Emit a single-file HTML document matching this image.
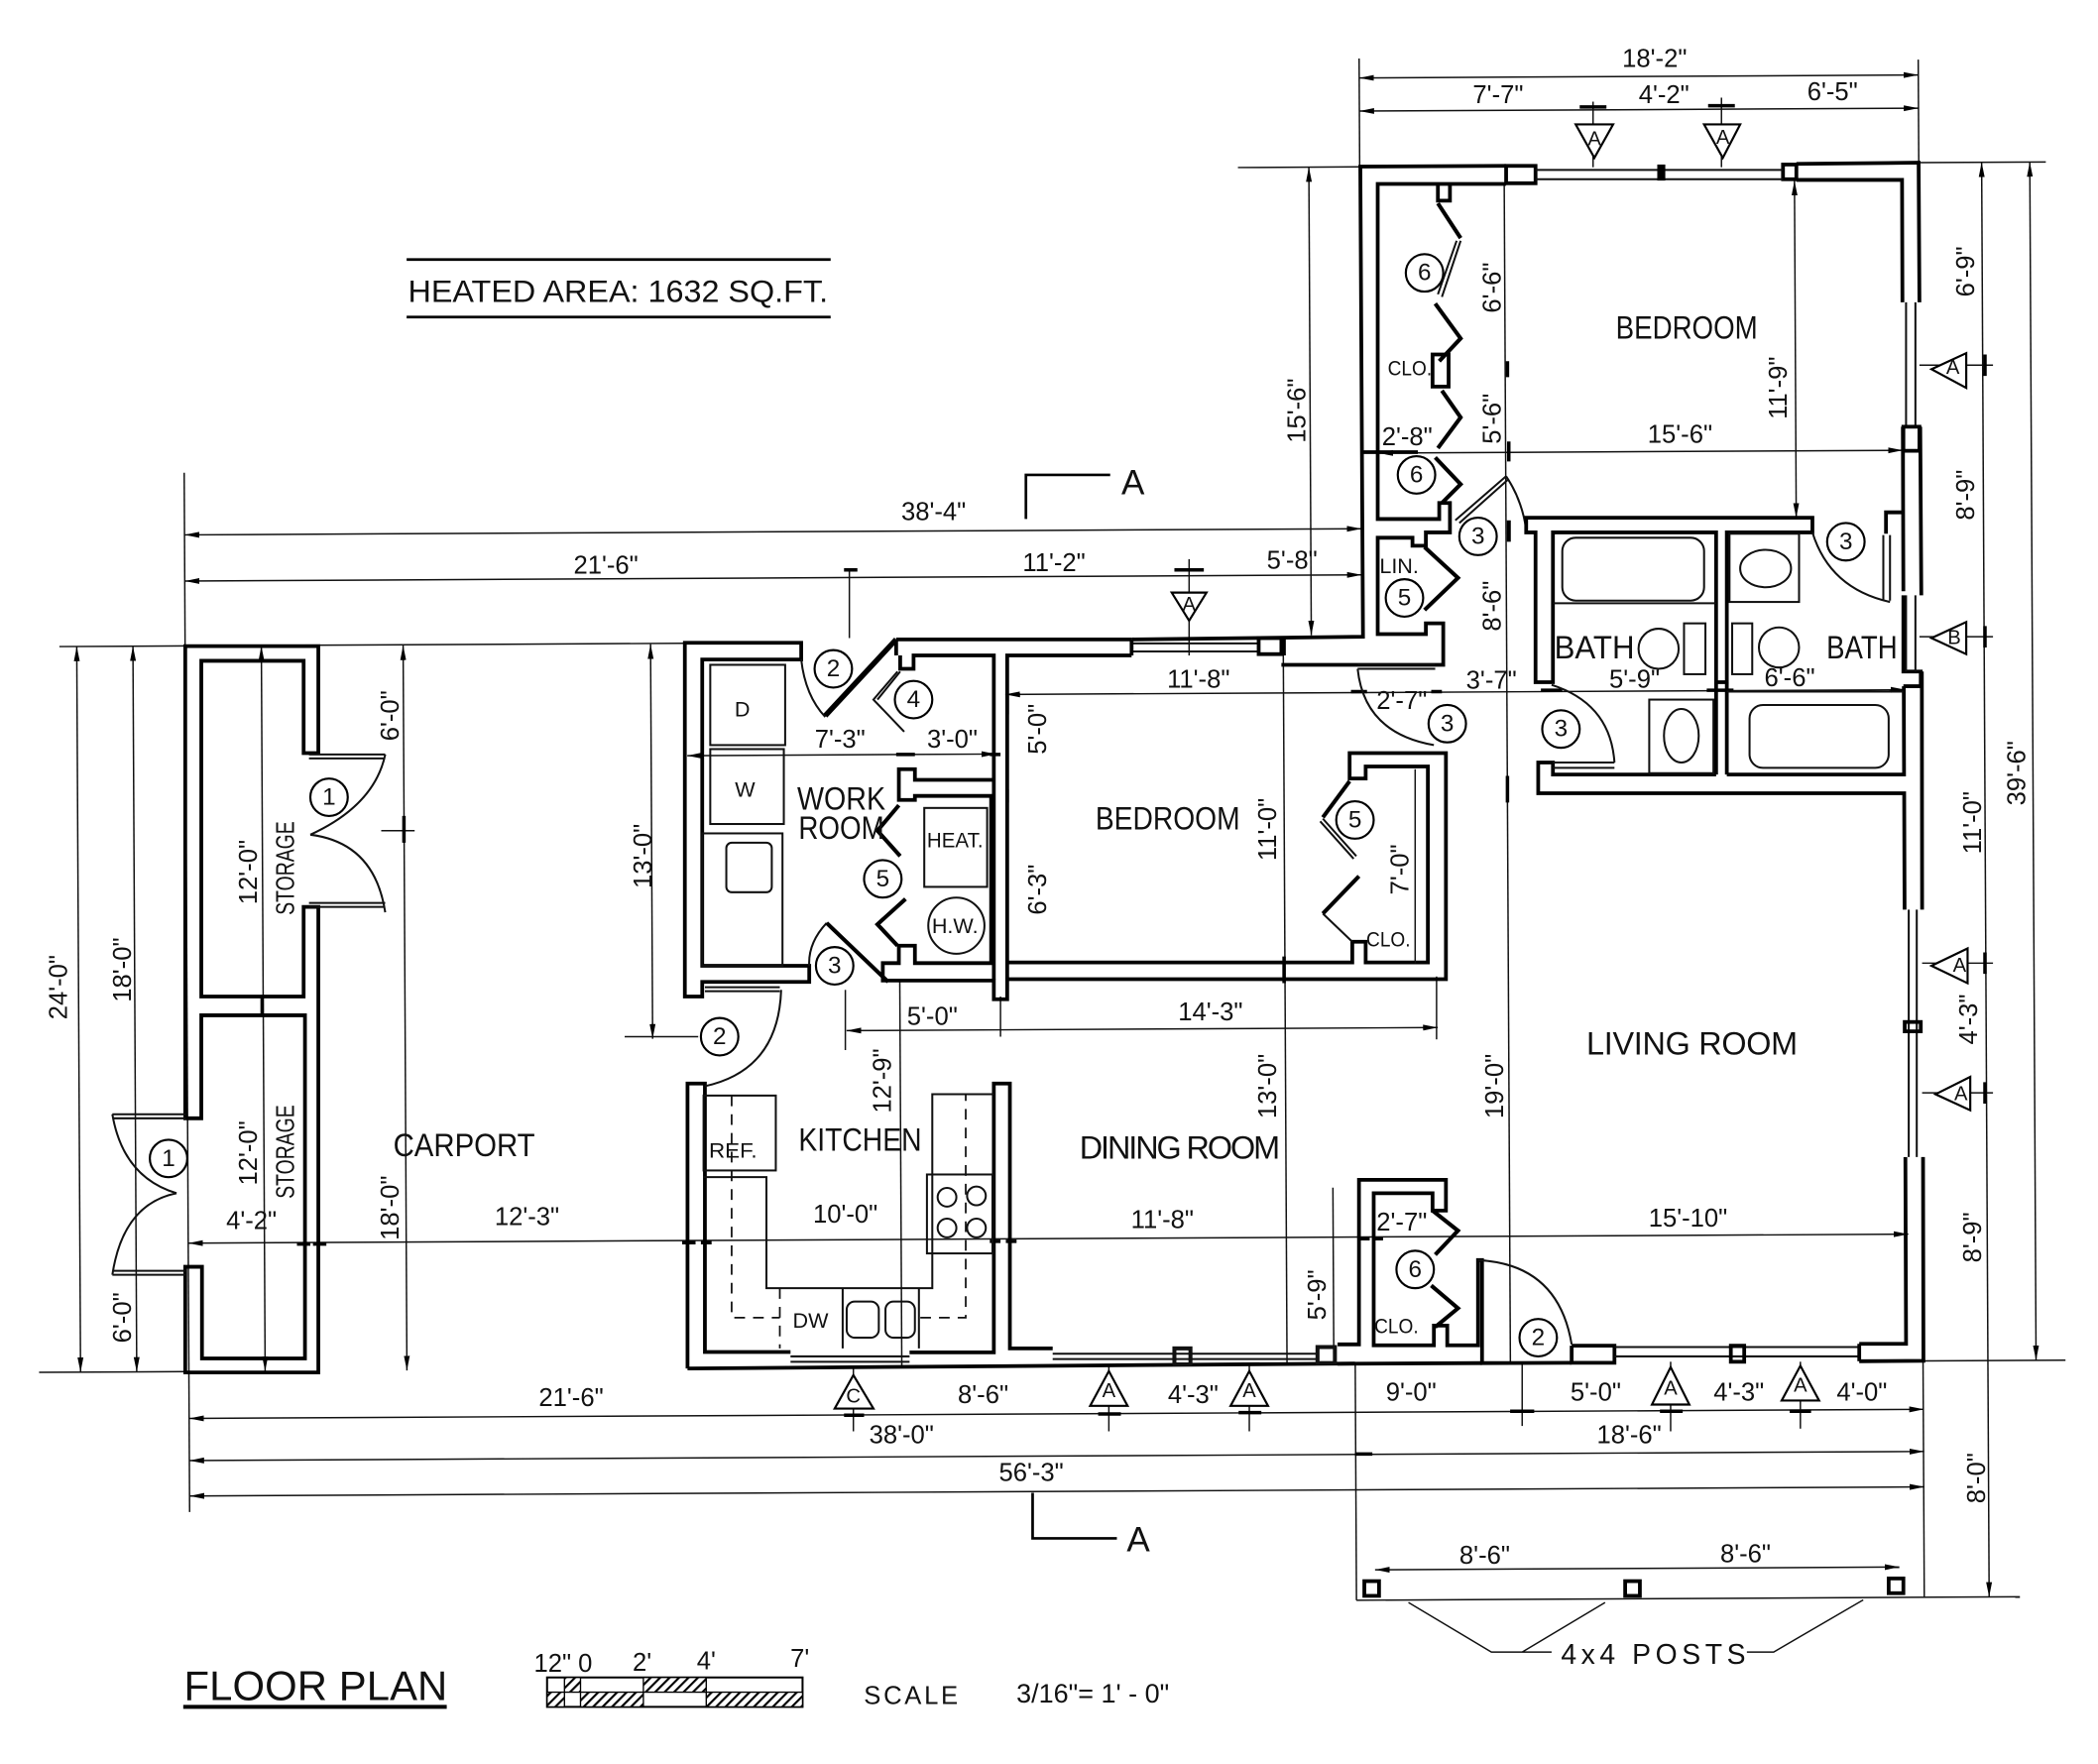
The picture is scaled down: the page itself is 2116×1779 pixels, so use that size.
<!DOCTYPE html>
<html><head><meta charset="utf-8"><title>Floor Plan</title>
<style>
html,body{margin:0;padding:0;background:#fff}
svg{display:block}
text{font-family:"Liberation Sans",sans-serif;fill:#111;text-anchor:middle;dominant-baseline:central}
.w{fill:none;stroke:#000;stroke-width:2.8;stroke-linejoin:miter}
.m{fill:none;stroke:#000;stroke-width:2}
.t{fill:none;stroke:#111;stroke-width:1.1}
.f{fill:none;stroke:#111;stroke-width:1.5}
.da{fill:none;stroke:#111;stroke-width:1.3;stroke-dasharray:8 6}
.a{fill:none;stroke:#111;stroke-width:1.1;marker-start:url(#ar);marker-end:url(#ar)}
.fold{fill:none;stroke:#000;stroke-width:3}
.k{fill:none;stroke:#000;stroke-width:2.6}
.b{fill:#000}
.c{fill:#fff;stroke:#000;stroke-width:1.6}
.d{font-size:19px}
.r{font-size:24px}
.s{font-size:16px}
</style></head><body>
<svg width="2116" height="1779" viewBox="0 0 1568.5 1318.7" xmlns="http://www.w3.org/2000/svg">
<defs>
<marker id="ar" viewBox="0 0 11 5" refX="11" refY="2.5" markerUnits="userSpaceOnUse" markerWidth="11" markerHeight="5" orient="auto-start-reverse"><path d="M11 2.5L0 0.3V4.7Z" fill="#000"/></marker>
<pattern id="h" width="5" height="5" patternUnits="userSpaceOnUse" patternTransform="rotate(45)"><rect width="5" height="5" fill="#fff"/><rect width="1.6" height="5" fill="#000"/></pattern>
</defs>
<rect width="1569" height="1319" fill="#fff"/>

<!-- title -->
<line x1="304" y1="194" x2="621" y2="194" class="m"/>
<line x1="304" y1="237" x2="621" y2="237" class="m"/>
<text x="462" y="218" font-size="23" textLength="314" lengthAdjust="spacingAndGlyphs">HEATED AREA: 1632 SQ.FT.</text>

<!-- long dimension + extension lines, carrying the sheet's slight tilt -->
<g transform="rotate(-0.3 780 600)">
<g class="t">
<line x1="139" y1="350" x2="139" y2="1127"/>
<line x1="45" y1="479.5" x2="512" y2="479.5"/>
<line x1="27" y1="1022" x2="139" y2="1022"/>
<line x1="1019" y1="45" x2="1019" y2="127"/>
<line x1="1437" y1="48" x2="1437" y2="127"/>
<line x1="928" y1="126" x2="1019" y2="126"/>
<line x1="1436" y1="125" x2="1532" y2="125"/>
<line x1="1436" y1="1020.8" x2="1542" y2="1020.8"/>
<line x1="1011" y1="1020" x2="1011" y2="1197.5"/>
<line x1="1435.5" y1="1020" x2="1435.5" y2="1197.5"/>
<line x1="1011" y1="1197.5" x2="1507" y2="1197.5"/>
<line x1="672" y1="733" x2="672" y2="1022"/>
<line x1="960" y1="490" x2="960" y2="1021"/>
<line x1="995" y1="889" x2="995" y2="1020"/>
<line x1="1127" y1="139" x2="1127" y2="1020"/>
</g>
<line class="a" x1="139" y1="396.5" x2="1019" y2="396.5"/>
<line class="a" x1="139" y1="431" x2="1019" y2="431"/>
<line class="a" x1="1019" y1="59.5" x2="1437" y2="59.5"/>
<line class="a" x1="1019" y1="84.3" x2="1437" y2="84.3"/>
<line class="a" x1="58" y1="479.5" x2="58" y2="1022"/>
<line class="a" x1="100" y1="479.5" x2="100" y2="1022"/>
<line class="a" x1="196" y1="480" x2="196" y2="1022"/>
<line class="a" x1="302" y1="480" x2="302" y2="1022"/>
<line class="a" x1="487" y1="480" x2="487" y2="775"/>
<line class="a" x1="139" y1="926" x2="1425" y2="926"/>
<line class="a" x1="514" y1="563.5" x2="745" y2="563.5"/>
<line class="a" x1="752" y1="519" x2="1425" y2="519"/>
<line class="a" x1="632" y1="769.7" x2="1074" y2="769.7"/>
<line class="a" x1="981" y1="126" x2="981" y2="476"/>
<line class="a" x1="1344" y1="138" x2="1344" y2="390"/>
<line class="a" x1="1032" y1="340" x2="1424" y2="340"/>
<line class="a" x1="1484" y1="125" x2="1484" y2="1197.5"/>
<line class="a" x1="1520" y1="125" x2="1520" y2="1020.8"/>
<line class="a" x1="139" y1="1057" x2="1436" y2="1057"/>
<line class="a" x1="139" y1="1088.5" x2="1436" y2="1088.5"/>
<line class="a" x1="139" y1="1115" x2="1436" y2="1115"/>
<line class="a" x1="1025" y1="1174.8" x2="1417" y2="1174.8"/>
</g>
<g class="t">
<line x1="635" y1="425" x2="635" y2="477"/>
<line x1="889" y1="418" x2="889" y2="490"/>
<line x1="1191" y1="76" x2="1191" y2="125"/>
<line x1="1287" y1="73" x2="1287" y2="125"/>
<line x1="467" y1="775" x2="522" y2="775"/>
<line x1="632" y1="740" x2="632" y2="785"/>
<line x1="748" y1="745" x2="748" y2="775"/>
<line x1="1074" y1="730" x2="1074" y2="777"/>
<line x1="1138" y1="1019" x2="1138" y2="1066"/>
<line x1="1435" y1="273" x2="1490" y2="273"/>
<line x1="1435" y1="476" x2="1490" y2="476"/>
<line x1="1437" y1="720" x2="1490" y2="720"/>
<line x1="1437" y1="817" x2="1490" y2="817"/>
<line x1="285" y1="621" x2="310" y2="621"/>
<line x1="638" y1="1022" x2="638" y2="1070"/>
<line x1="829" y1="1020" x2="829" y2="1070"/>
<line x1="934" y1="1020" x2="934" y2="1070"/>
<line x1="1249" y1="1018" x2="1249" y2="1070"/>
<line x1="1346" y1="1018" x2="1346" y2="1068"/>
</g>
<!-- dimension tick blobs -->
<g class="k">
<path d="M1181 80H1201M1277 79H1297M878 426H900"/>
<path d="M1484 265V281M1484 468V484M1484 712V728M1484 809V825"/>
<path d="M631 1058H646M821 1057H838M926 1056H943M1241 1055H1258M1338 1055H1354M1130 1055H1146"/>
<path d="M222 930H232M234 930H244M510 929H520M524 929H532M740 928H748M752 928H760M1016 926H1024M1028 926H1034"/>
<path d="M1010 517H1022M1070 517H1078M1152 516H1168M1276 516H1296M670 564H684M740 564H748"/>
<path d="M631 426H641M1129 1055H1147M1013 1087H1026"/>
<path d="M196 745V760M302 610V630M753 520V534M753 590V600M960 476V490M960 715V735M1127 270V282M1128 330V345M1127 580V600"/>
</g>

<!-- section marks -->
<path class="m" d="M767 388V355H830"/>
<text x="847" y="361" font-size="26">A</text>
<path class="m" d="M772 1116V1150H835"/>
<text x="851" y="1151" font-size="26">A</text>

<!-- storage -->
<path class="w" d="M138.5 836V483H238V563H227V494H150.5V745H227V678H238V1026H138.5V947H151V1015.5H228V759H150.5V836Z"/>
<g class="f">
<path d="M231 564H288M231 567H288M232 624Q280 602 288 564"/>
<path d="M231 675H288M231 678H288M232 624Q280 630 288 682"/>
<path d="M84 833H139M84 836H139M132 892Q92 880 84 833"/>
<path d="M84 950H139M84 953H139M132 892Q92 900 84 953"/>
</g>

<!-- kitchen walls -->
<path class="w" d="M514 1023V810H527V1010.7H591M680 1011H743V810H755V1008H787"/>
<path class="w" d="M514 1023L790 1021L1013 1019.3"/>
<g class="f">
<path d="M591 1014H680M591 1018H680M787 1012H985M787 1016H985"/>
<rect x="878" y="1008" width="12" height="12" stroke-width="3"/>
<rect x="985" y="1007" width="13" height="12" stroke-width="3"/>
<rect x="526" y="819" width="54" height="56"/>
<path d="M526 880H573V963H697V818H743"/>
<rect x="693" y="878" width="49" height="59"/>
<circle cx="708" cy="895" r="7"/><circle cx="730" cy="894" r="7"/><circle cx="708" cy="918" r="7"/><circle cx="730" cy="918" r="7"/>
<path d="M630 963V1008M687 963V1008"/>
<rect x="633" y="973" width="24" height="27" rx="6"/>
<rect x="662" y="973" width="22" height="27" rx="6"/>
</g>
<path class="da" d="M547 819V985H583M583 963V1008M688 985H722V818"/>

<!-- work room -->
<path class="w" d="M512 745V480.5H599V493H525V722H605V734H525V745Z"/>
<path class="f" d="M527 738H583M527 741H583M584 740Q582 800 527 812"/>
<path class="f" d="M599 493Q602 520 617 536M618 690Q604 705 605 722"/>
<line x1="617" y1="535" x2="670" y2="478" class="fold" style="stroke-width:4"/>
<line x1="618" y1="690" x2="664" y2="734" class="fold"/>
<g class="f">
<rect x="531" y="497" width="56" height="60"/>
<rect x="531" y="560" width="55" height="56"/>
<rect x="525" y="623" width="60" height="99"/>
<rect x="543" y="630" width="34" height="37" rx="4"/>
<rect x="691" y="604" width="47" height="59"/>
<circle cx="715" cy="692" r="21"/>
</g>
<path class="w" d="M670 478H846M670 478V490M673 490V500H683V490H743V732M753 732V490H846M743 583H684V575H672V598H684V595H743"/>
<path class="w" d="M741 595V720H684V707H672V720H660V733H743V747H753V732H1081V563H1009V582H1021V573H1067.5V719.5H1021V704H1011V719.5H753"/>
<line x1="1058" y1="575" x2="1058" y2="720" class="t"/>
<path class="fold" d="M672 602L656 621L673 640M677 672L656 691L671 707"/>
<path class="f" d="M671 502L653 523L676 547M673 502L656 523"/>
<path class="fold" d="M1009 584L989 611"/><path class="f" d="M989 612L1014 640M987 614L1012 642"/>
<path class="fold" d="M1016 655L989 683"/><path class="f" d="M989 683L1011 704"/>

<!-- main long wall and bedroom wing -->
<path class="w" d="M846 478L1019 476L1017 124.5L1126 124M1343 122.5L1434.4 121.6L1435 226M1435.6 319L1436.4 445M1436.8 502L1437 680M1437.7 865L1438 1017.3L1390 1017.6M1175 1018.8L1108 1019V942H1105V1005.7H1082V991H1072V1005.7H1027V892H1071V905H1081V882H1016V1005H1000"/>
<line x1="1000" y1="1019.5" x2="1108" y2="1019" class="w"/>
<path class="w" d="M1126 137.5H1030V388H1076V376H1084V398H1066V408H1056V402H1030V474H1066V466H1079V497H958"/>
<line x1="1018" y1="338" x2="1060" y2="338" class="w"/>
<path class="w" d="M1343 134.5H1422L1422.3 226M1422.7 337L1422.8 383H1410V399M1423 442L1422.6 319M1423.3 513L1423.5 579H1291M1283 579H1161V570H1150V593H1423.6L1423.9 680M1424.5 865L1425 1004.6H1390M1175 1006V1018.8H1207V1006H1175"/>
<path class="w" d="M1423 445V502H1436V513H1423"/>
<rect x="1126" y="124" width="22" height="13" class="w"/>
<rect x="1333" y="123" width="10" height="11" class="w"/>
<g class="f">
<path d="M1148 127H1333M1148 134H1333M1425 226V319M1432 226V319M1425 445V502M1432 445V502M1427 680V865M1433 680V865M1207 1007H1390M1207 1014H1390"/>
<path d="M846 481H941M846 487H941"/>
</g>
<rect x="941" y="477" width="17" height="12" class="w"/>
<rect x="1239" y="123" width="6" height="12" class="b"/>
<rect x="1423" y="319" width="12" height="18" class="w"/>
<rect x="1424" y="764" width="12" height="7" class="w"/>
<rect x="1294" y="1006" width="10" height="12" class="w"/>
<path class="w" d="M1390 1004.6V1017.6"/>
<path class="w" d="M846 490V478M958 490V477"/>

<!-- closet folds upper -->
<path class="w" d="M1075 137.5V150H1084V137.5"/>
<path class="fold" d="M1075 152L1092 178"/>
<path class="f" d="M1092 180L1078 222M1089 180L1075 220"/>
<path class="fold" d="M1073 227L1092 253L1076 270"/>
<rect x="1071" y="265" width="12" height="24" class="w"/>
<path class="fold" d="M1078 292L1092 312L1075 335"/>
<path class="fold" d="M1073 342L1092 362L1078 376"/>
<path class="fold" d="M1065 409L1090 432L1065 456"/>
<path class="f" d="M1088 389L1126 356M1091 391L1128 358"/>
<path class="f" d="M1126 356Q1138 374 1141 396"/>
<line x1="1128" y1="389" x2="1128" y2="405" class="fold"/>

<!-- baths -->
<path class="w" d="M1141 387H1355V398H1291V510H1283V398H1161V510H1148V398H1141Z"/>
<line x1="1283" y1="510" x2="1283" y2="579" class="w"/><line x1="1291" y1="510" x2="1291" y2="579" class="w"/>
<g class="f">
<rect x="1168" y="402" width="106" height="47" rx="10"/>
<path d="M1161 451H1283"/>
<rect x="1308" y="527" width="104" height="47" rx="10"/>
<path d="M1291 517H1423"/>
<rect x="1293" y="399" width="52" height="51"/>
<ellipse cx="1320" cy="425" rx="19" ry="14"/>
<rect x="1233" y="523" width="48" height="55"/>
<ellipse cx="1257" cy="550" rx="13" ry="20"/>
<circle cx="1240" cy="485" r="15"/>
<rect x="1259" y="466" width="16" height="38"/>
<rect x="1295" y="466" width="15" height="38"/>
<circle cx="1330" cy="484" r="15"/>
<path d="M1161 570H1207M1161 574H1207M1207 570Q1204 526 1160 512"/>
<path d="M1015 497H1073M1015 500H1073M1015 500Q1020 548 1072 557"/>
<path d="M1355 398Q1368 440 1413 450M1408 400V449M1413 400V449"/>
</g>

<!-- lower closet folds, door -->
<path class="fold" d="M1071 905L1090 920L1073 938M1070 961L1090 978L1073 992"/>
<path class="f" d="M1105 942Q1165 945 1175 1005"/>

<!-- porch -->
<rect x="1020" y="1182" width="11" height="11" class="w"/>
<rect x="1215" y="1182" width="11" height="11" class="w"/>
<rect x="1412" y="1180" width="11" height="11" class="w"/>
<path class="t" d="M1053 1198L1115 1235H1160M1138 1235L1200 1198M1306 1235H1326L1393 1196"/>
<text x="1236" y="1237" font-size="21" textLength="138" lengthAdjust="spacing">4x4 POSTS</text>

<!-- tags -->
<g class="c">
<path d="M1178 93H1206L1192 118Z"/><path d="M1274 93H1301L1288 118Z"/>
<path d="M876 443H902L889 464Z"/>
<path d="M1444 276L1470 264V290Z"/><path d="M1444 477L1470 465V489Z"/>
<path d="M1444 722L1471 709V735Z"/><path d="M1447 818L1473 805V830Z"/>
<path d="M624 1053H653L638 1028Z"/>
<path d="M815 1051H843L829 1025Z"/><path d="M920 1051H948L934 1025Z"/>
<path d="M1235 1050H1263L1249 1022Z"/><path d="M1332 1047H1360L1346 1021Z"/>
</g>
<text x="1192" y="104" font-size="15">A</text><text x="1288" y="103" font-size="15">A</text>
<text x="889" y="452" font-size="15">A</text>
<text x="1460" y="275" font-size="15">A</text><text x="1461" y="477" font-size="15">B</text>
<text x="1465" y="722" font-size="15">A</text><text x="1466" y="818" font-size="15">A</text>
<text x="638" y="1044" font-size="15">C</text>
<text x="829" y="1040" font-size="15">A</text><text x="934" y="1040" font-size="15">A</text>
<text x="1249" y="1038" font-size="15">A</text><text x="1346" y="1036" font-size="15">A</text>

<!-- circles -->
<g class="c">
<circle cx="246" cy="596" r="14"/><circle cx="126" cy="866" r="14"/>
<circle cx="623" cy="500" r="14"/><circle cx="683" cy="523" r="14"/>
<circle cx="624" cy="722" r="14"/><circle cx="538" cy="775" r="14"/>
<circle cx="660" cy="657" r="14"/><circle cx="1013" cy="613" r="14"/>
<circle cx="1082" cy="541" r="14"/><circle cx="1167" cy="545" r="14"/>
<circle cx="1105" cy="401" r="14"/><circle cx="1380" cy="405" r="14"/>
<circle cx="1065" cy="204" r="14"/><circle cx="1059" cy="355" r="14"/>
<circle cx="1050" cy="447" r="14"/><circle cx="1058" cy="949" r="14"/>
<circle cx="1150" cy="1000" r="14"/>
</g>
<g font-size="18">
<text x="246" y="596" font-size="18">1</text><text x="126" y="866" font-size="18">1</text>
<text x="623" y="500" font-size="18">2</text><text x="683" y="523" font-size="18">4</text>
<text x="624" y="722" font-size="18">3</text><text x="538" y="775" font-size="18">2</text>
<text x="660" y="657" font-size="18">5</text><text x="1013" y="613" font-size="18">5</text>
<text x="1082" y="541" font-size="18">3</text><text x="1167" y="545" font-size="18">3</text>
<text x="1105" y="401" font-size="18">3</text><text x="1380" y="405" font-size="18">3</text>
<text x="1065" y="204" font-size="18">6</text><text x="1059" y="355" font-size="18">6</text>
<text x="1050" y="447" font-size="18">5</text><text x="1058" y="949" font-size="18">6</text>
<text x="1150" y="1000" font-size="18">2</text>
</g>

<!-- room labels -->
<g class="r">
<text x="347" y="856" textLength="106" lengthAdjust="spacingAndGlyphs">CARPORT</text>
<text x="643" y="852" textLength="92" lengthAdjust="spacingAndGlyphs">KITCHEN</text>
<text x="882" y="858" textLength="150" lengthAdjust="spacing">DINING  ROOM</text>
<text x="873" y="612" textLength="108" lengthAdjust="spacingAndGlyphs">BEDROOM</text>
<text x="1261" y="245" textLength="106" lengthAdjust="spacingAndGlyphs">BEDROOM</text>
<text x="1265" y="780" textLength="158" lengthAdjust="spacing">LIVING  ROOM</text>
<text x="629" y="597" textLength="66" lengthAdjust="spacingAndGlyphs">WORK</text>
<text x="629" y="619" textLength="64" lengthAdjust="spacingAndGlyphs">ROOM</text>
<text x="1192" y="484" textLength="60" lengthAdjust="spacingAndGlyphs">BATH</text>
<text x="1392" y="484" textLength="53" lengthAdjust="spacingAndGlyphs">BATH</text>
</g>
<g class="s">
<text x="548" y="860" textLength="36" lengthAdjust="spacingAndGlyphs">REF.</text>
<text x="606" y="987">DW</text>
<text x="555" y="530">D</text><text x="557" y="590">W</text>
<text x="714" y="628" textLength="42" lengthAdjust="spacingAndGlyphs">HEAT.</text>
<text x="714" y="692">H.W.</text>
<text x="1054" y="275" textLength="33" lengthAdjust="spacingAndGlyphs">CLO.</text>
<text x="1046" y="423">LIN.</text>
<text x="1038" y="702" textLength="33" lengthAdjust="spacingAndGlyphs">CLO.</text>
<text x="1044" y="991" textLength="33" lengthAdjust="spacingAndGlyphs">CLO.</text>
</g>
<text x="214" y="649" font-size="19" textLength="70" lengthAdjust="spacingAndGlyphs" transform="rotate(-90 214 649)">STORAGE</text>
<text x="214" y="861" font-size="19" textLength="70" lengthAdjust="spacingAndGlyphs" transform="rotate(-90 214 861)">STORAGE</text>

<!-- horizontal dims -->
<g class="d">
<text x="698" y="383">38'-4"</text><text x="453" y="423">21'-6"</text><text x="788" y="421">11'-2"</text><text x="966" y="419">5'-8"</text>
<text x="1237" y="44">18'-2"</text><text x="1120" y="71">7'-7"</text><text x="1244" y="71">4'-2"</text><text x="1370" y="69">6'-5"</text>
<text x="896" y="508">11'-8"</text><text x="628" y="553">7'-3"</text><text x="712" y="553">3'-0"</text><text x="1048" y="524">2'-7"</text><text x="1115" y="509">3'-7"</text>
<text x="1222" y="508">5'-9"</text><text x="1338" y="507">6'-6"</text>
<text x="1256" y="325">15'-6"</text><text x="1052" y="327">2'-8"</text>
<text x="697" y="760">5'-0"</text><text x="905" y="757">14'-3"</text>
<text x="188" y="913">4'-2"</text><text x="394" y="910">12'-3"</text><text x="632" y="908">10'-0"</text><text x="869" y="912">11'-8"</text><text x="1048" y="914">2'-7"</text><text x="1262" y="911">15'-10"</text>
<text x="427" y="1045">21'-6"</text><text x="735" y="1043">8'-6"</text><text x="892" y="1043">4'-3"</text><text x="1055" y="1041">9'-0"</text><text x="1193" y="1041">5'-0"</text><text x="1300" y="1041">4'-3"</text><text x="1392" y="1041">4'-0"</text>
<text x="674" y="1073">38'-0"</text><text x="1218" y="1073">18'-6"</text><text x="771" y="1101">56'-3"</text>
<text x="1110" y="1163">8'-6"</text><text x="1305" y="1162">8'-6"</text>
</g>
<!-- vertical dims -->
<g class="d">
<text x="44" y="738" transform="rotate(-90 44 738)">24'-0"</text>
<text x="92" y="725" transform="rotate(-90 92 725)">18'-0"</text>
<text x="92" y="985" transform="rotate(-90 92 985)">6'-0"</text>
<text x="186" y="652" transform="rotate(-90 186 652)">12'-0"</text>
<text x="186" y="862" transform="rotate(-90 186 862)">12'-0"</text>
<text x="292" y="535" transform="rotate(-90 292 535)">6'-0"</text>
<text x="292" y="903" transform="rotate(-90 292 903)">18'-0"</text>
<text x="481" y="640" transform="rotate(-90 481 640)">13'-0"</text>
<text x="776" y="545" transform="rotate(-90 776 545)">5'-0"</text>
<text x="776" y="665" transform="rotate(-90 776 665)">6'-3"</text>
<text x="660" y="808" transform="rotate(-90 660 808)">12'-9"</text>
<text x="948" y="620" transform="rotate(-90 948 620)">11'-0"</text>
<text x="948" y="812" transform="rotate(-90 948 812)">13'-0"</text>
<text x="1047" y="650" transform="rotate(-90 1047 650)">7'-0"</text>
<text x="985" y="968" transform="rotate(-90 985 968)">5'-9"</text>
<text x="1118" y="812" transform="rotate(-90 1118 812)">19'-0"</text>
<text x="1116" y="453" transform="rotate(-90 1116 453)">8'-6"</text>
<text x="1116" y="215" transform="rotate(-90 1116 215)">6'-6"</text>
<text x="1116" y="313" transform="rotate(-90 1116 313)">5'-6"</text>
<text x="970" y="307" transform="rotate(-90 970 307)">15'-6"</text>
<text x="1330" y="290" transform="rotate(-90 1330 290)">11'-9"</text>
<text x="1470" y="203" transform="rotate(-90 1470 203)">6'-9"</text>
<text x="1470" y="370" transform="rotate(-90 1470 370)">8'-9"</text>
<text x="1475" y="615" transform="rotate(-90 1475 615)">11'-0"</text>
<text x="1472" y="762" transform="rotate(-90 1472 762)">4'-3"</text>
<text x="1475" y="925" transform="rotate(-90 1475 925)">8'-9"</text>
<text x="1478" y="1105" transform="rotate(-90 1478 1105)">8'-0"</text>
<text x="1508" y="578" transform="rotate(-90 1508 578)">39'-6"</text>
</g>

<!-- footer -->
<text x="236" y="1260" font-size="31" textLength="197" lengthAdjust="spacing">FLOOR  PLAN</text>
<line x1="137" y1="1276" x2="334" y2="1276" stroke="#000" stroke-width="3"/>
<rect x="409" y="1254" width="191" height="22" fill="#fff" stroke="#000" stroke-width="1.5"/>
<rect x="422" y="1254" width="12" height="11" fill="url(#h)" stroke="#000"/>
<rect x="409" y="1265" width="13" height="11" fill="url(#h)" stroke="#000"/>
<rect x="434" y="1265" width="47" height="11" fill="url(#h)" stroke="#000"/>
<rect x="481" y="1254" width="47" height="11" fill="url(#h)" stroke="#000"/>
<rect x="528" y="1265" width="72" height="11" fill="url(#h)" stroke="#000"/>
<text x="421" y="1244" class="d">12" 0</text>
<text x="480" y="1243" class="d">2'</text><text x="528" y="1242" class="d">4'</text><text x="598" y="1240" class="d">7'</text>
<text x="682" y="1268" font-size="19" letter-spacing="2">SCALE</text>
<text x="817" y="1266" font-size="20">3/16"= 1' - 0"</text>
</svg>
</body></html>
